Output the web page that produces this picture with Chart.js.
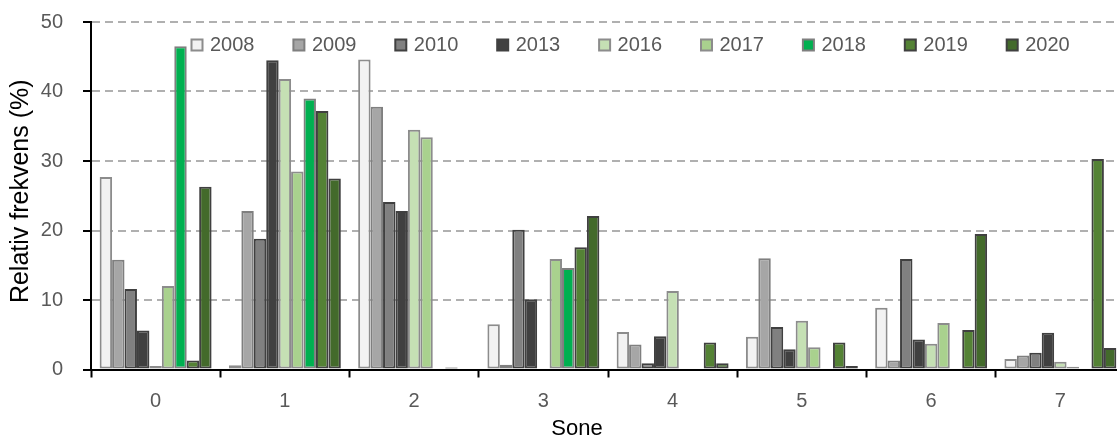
<!DOCTYPE html>
<html>
<head>
<meta charset="utf-8">
<script src="https://cdn.jsdelivr.net/npm/chart.js@4.4.1/dist/chart.umd.min.js"></script>
<style>
html,body{margin:0;padding:0;background:#fff;overflow:hidden;}
#wrap{width:1117px;height:439px;overflow:hidden;position:relative;background:#fff;}
canvas{display:block;}
</style>
</head>
<body>
<div id="wrap"><canvas id="c" width="1125" height="439"></canvas></div>
<script>
// ---- data ----
const categories = ['0', '1', '2', '3', '4', '5', '6', '7'];
const years = ['2008', '2009', '2010', '2013', '2016', '2017', '2018', '2019', '2020'];
const v2008 = [27.7, 0.6, 44.6, 6.5, 5.4, 4.7, 8.9, 1.5];
const v2009 = [15.8, 22.8, 37.8, 0.7, 3.6, 16.0, 1.3, 2.0];
const v2010 = [11.6, 18.8, 24.1, 20.1, 0.9, 6.1, 15.9, 2.4];
const v2013 = [5.6, 44.5, 22.8, 10.1, 4.8, 2.9, 4.3, 5.3];
const v2016 = [0.5, 41.8, 34.5, null, 11.3, 7.0, 3.7, 1.1];
const v2017 = [12.0, 28.5, 33.4, 15.9, null, 3.2, 6.7, 0.4];
const v2018 = [46.5, 39.0, null, 14.6, null, null, null, null];
const v2019 = [1.3, 37.2, 0.3, 17.6, 3.9, 3.9, 5.7, 30.3];
const v2020 = [26.3, 27.5, null, 22.1, 0.9, 0.5, 19.5, 3.1];
const yTicks = [0, 10, 20, 30, 40, 50];
const yTitle = 'Relativ frekvens (%)';
const xTitle = 'Sone';

const seriesValues = [v2008, v2009, v2010, v2013, v2016, v2017, v2018, v2019, v2020];
const fills   = ['#f2f2f2', '#a6a6a6', '#808080', '#404040', '#c5e0b4', '#a9d18e', '#00b050', '#548235', '#436a2b'];
const borders = ['#8c8c8c', '#7f7f7f', '#404040', '#404040', '#8c8c8c', '#8c8c8c', '#7f7f7f', '#404040', '#404040'];

const FONT = '"Liberation Sans", Arial, sans-serif';

const datasets = years.map((y, i) => ({
  label: y,
  data: seriesValues[i],
  backgroundColor: fills[i],
  borderColor: borders[i],
  borderWidth: 2,
  borderSkipped: false,
  categoryPercentage: 0.866,
  barPercentage: 1.0
}));

const overlayPlugin = {
  id: 'overlay',
  afterDraw(chart) {
    const ctx = chart.ctx;
    const ca = chart.chartArea;
    ctx.save();
    // legend inside plot area
    ctx.font = '20px ' + FONT;
    ctx.textBaseline = 'middle';
    ctx.textAlign = 'left';
    chart.data.datasets.forEach((ds, i) => {
      const x = ca.left + 99.5 + 101.9 * i;
      const y = ca.top + 16.5;
      ctx.fillStyle = ds.borderColor;
      ctx.fillRect(x, y, 13, 13);
      ctx.fillStyle = ds.backgroundColor;
      ctx.fillRect(x + 2, y + 2, 9, 9);
      ctx.fillStyle = '#595959';
      ctx.fillText(ds.label, x + 19.5, y + 7);
    });
    // axis titles
    ctx.fillStyle = '#000000';
    ctx.font = '25px ' + FONT;
    ctx.textAlign = 'center';
    ctx.textBaseline = 'middle';
    ctx.save();
    ctx.translate(21, (ca.top + ca.bottom) / 2 - 4.5);
    ctx.rotate(-Math.PI / 2);
    ctx.fillText(yTitle, 0, 0);
    ctx.restore();
    ctx.font = '22px ' + FONT;
    ctx.fillText(xTitle, 577, 429);
    ctx.restore();
  }
};

new Chart(document.getElementById('c'), {
  type: 'bar',
  data: { labels: categories, datasets: datasets },
  options: {
    responsive: false,
    animation: false,
    devicePixelRatio: 1,
    layout: { padding: { top: 22, left: 0, right: 0, bottom: 0 } },
    plugins: { legend: { display: false }, tooltip: { enabled: false } },
    scales: {
      x: {
        offset: true,
        grid: {
          drawOnChartArea: false,
          drawTicks: true,
          tickLength: 8,
          tickColor: '#000000',
          tickWidth: 2,
          offset: true
        },
        border: { display: true, color: '#000000', width: 2 },
        ticks: { color: '#595959', font: { family: FONT, size: 20 }, padding: 11.5 },
        afterFit(s) { s.height = 69.5; s.paddingLeft = 0; s.paddingRight = 0; }
      },
      y: {
        min: 0,
        max: 50,
        afterBuildTicks(s) { s.ticks = yTicks.map(v => ({ value: v })); },
        grid: {
          color: (c) => (c.tick && c.tick.value === 0) ? 'rgba(0,0,0,0)' : '#b0b0b0',
          lineWidth: 2,
          drawTicks: true,
          tickLength: 8,
          tickColor: '#000000',
          tickWidth: 2,
          tickBorderDash: []
        },
        border: { display: true, color: '#000000', width: 2, dash: [8, 5] },
        ticks: { color: '#595959', font: { family: FONT, size: 20 }, padding: 20 },
        afterFit(s) { s.width = 91; s.paddingTop = 0; s.paddingBottom = 0; }
      }
    }
  },
  plugins: [overlayPlugin]
});
</script>
</body>
</html>
